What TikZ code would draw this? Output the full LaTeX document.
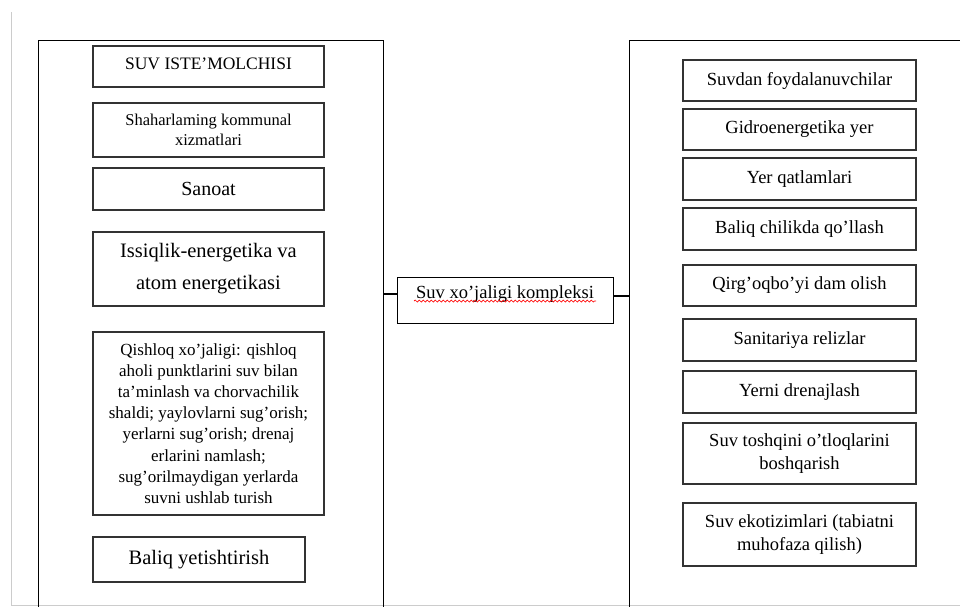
\documentclass[tikz,border=0pt]{standalone}
\usepackage{fontspec}
\setmainfont{Liberation Serif}
\usetikzlibrary{calc,decorations.pathmorphing}
\tikzset{
  panel/.style={draw=black, line width=1pt, rectangle, inner sep=0pt, anchor=north west},
  itembox/.style={draw=black!80, line width=1.2pt, rectangle, inner sep=0pt, align=center, text=black},
  leftitem/.style={itembox, minimum width=231pt},
  rightitem/.style={itembox, minimum width=233pt},
  conn/.style={draw=black, line width=2.2pt},
  pageedge/.style={draw=black!20, line width=1pt},
  squiggle/.style={draw=red, line width=0.7pt, decorate, decoration={snake, amplitude=1pt, segment length=4pt}}
}
\newcommand{\fs}[2]{\fontsize{#1}{#2}\selectfont}
\begin{document}
\begin{tikzpicture}[x=1pt, y=-1pt]
\useasboundingbox (0,0) rectangle (960,606);
\clip (0,0) rectangle (960,606);
\fill[white] (0,0) rectangle (960,606);
% page edges
\draw[pageedge] (11,12) -- (11,605) -- (960,605);
% panels
\node[panel, minimum width=345pt, minimum height=600pt] (L) at (38,40) {};
\node[panel, minimum width=380pt, minimum height=600pt] (R) at (629,40) {};
% left items
\node[leftitem, minimum height=41pt, font=\fs{17.5}{21}, text height=13pt, text depth=8pt] (l1) at (208.5,66.5) {SUV ISTE'MOLCHISI};
\node[leftitem, minimum height=54pt, font=\fs{16.5}{20}] (l2) at (208.5,130) {Shaharlaming kommunal\\xizmatlari};
\node[leftitem, minimum height=42pt, font=\fs{20}{24}] (l3) at (208.5,189) {Sanoat};
\node[leftitem, minimum height=74pt, font=\fs{20.5}{32}] (l4) at (208.5,269) {Issiqlik-energetika va\\atom energetikasi};
\node[leftitem, minimum height=183pt, font=\fs{17}{21.2}] (l5) at (208.5,423.5) {Qishloq xo'jaligi: qishloq\\aholi punktlarini suv bilan\\ta'minlash va chorvachilik\\shaldi; yaylovlarni sug'orish;\\yerlarni sug'orish; drenaj\\erlarini namlash;\\sug'orilmaydigan yerlarda\\suvni ushlab turish};
\node[itembox, minimum width=212pt, minimum height=45pt, font=\fs{20.5}{24}] (l6) at (199,559.5) {Baliq yetishtirish};
% centre
\node[itembox, line width=1pt, draw=black, minimum width=216pt, minimum height=46pt, font=\fs{18.5}{22}, text height=13pt, text depth=17pt] (c) at (505,300) {Suv xo'jaligi kompleksi};
\draw[squiggle] ($(c.base)+(-91,3)$) -- ($(c.base)+(91,3)$);
\draw[conn] ([yshift=6pt]c.west) -- ([yshift=6pt]c.west -| L.east);
\draw[conn] ([yshift=4pt]c.east) -- ([yshift=4pt]c.east -| R.west);
% right items
\node[rightitem, minimum height=41pt, font=\fs{18.5}{22}] (r1) at (799.5,80.5) {Suvdan foydalanuvchilar};
\node[rightitem, minimum height=41pt, font=\fs{18.5}{22}] (r2) at (799.5,129.5) {Gidroenergetika yer};
\node[rightitem, minimum height=42pt, font=\fs{18.5}{22}] (r3) at (799.5,179) {Yer qatlamlari};
\node[rightitem, minimum height=42pt, font=\fs{18.5}{22}] (r4) at (799.5,229) {Baliq chilikda qo'llash};
\node[rightitem, minimum height=41pt, font=\fs{18.5}{22}] (r5) at (799.5,285.5) {Qirg'oqbo'yi dam olish};
\node[rightitem, minimum height=42pt, font=\fs{18.5}{22}] (r6) at (799.5,340) {Sanitariya relizlar};
\node[rightitem, minimum height=42pt, font=\fs{18.5}{22}] (r7) at (799.5,392) {Yerni drenajlash};
\node[rightitem, minimum height=61pt, font=\fs{18.5}{23}] (r8) at (799.5,453.5) {Suv toshqini o'tloqlarini\\boshqarish};
\node[rightitem, minimum height=63pt, font=\fs{18.5}{23}] (r9) at (799.5,534.5) {Suv ekotizimlari (tabiatni\\muhofaza qilish)};
\end{tikzpicture}
\end{document}
